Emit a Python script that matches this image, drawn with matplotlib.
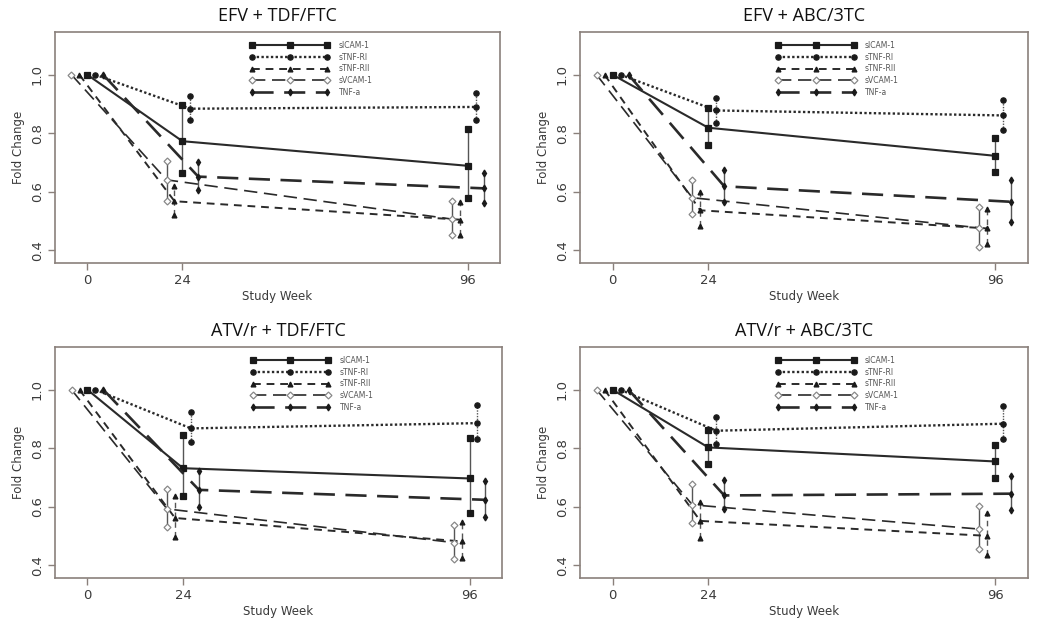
import matplotlib
matplotlib.use('Agg')
import matplotlib.pyplot as plt

# ---------------- data ----------------
weeks = [0, 24, 96]
biomarkers = ['sICAM-1', 'sTNF-RI', 'sTNF-RII', 'sVCAM-1', 'TNF-a']
titles = ['EFV + TDF/FTC', 'EFV + ABC/3TC', 'ATV/r + TDF/FTC', 'ATV/r + ABC/3TC']
baseline = 1.0

# fold change at weeks 24 and 96 (order: sICAM-1, sTNF-RI, sTNF-RII, sVCAM-1, TNF-a)
efv_tdf_mean = [[0.773, 0.689], [0.884, 0.890], [0.568, 0.505], [0.641, 0.507], [0.652, 0.612]]
efv_tdf_lo   = [[0.663, 0.579], [0.845, 0.845], [0.522, 0.452], [0.570, 0.454], [0.607, 0.563]]
efv_tdf_hi   = [[0.898, 0.816], [0.927, 0.939], [0.620, 0.567], [0.705, 0.568], [0.701, 0.664]]

efv_abc_mean = [[0.819, 0.723], [0.878, 0.861], [0.537, 0.475], [0.580, 0.477], [0.619, 0.566]]
efv_abc_lo   = [[0.759, 0.667], [0.836, 0.810], [0.484, 0.422], [0.526, 0.412], [0.566, 0.498]]
efv_abc_hi   = [[0.886, 0.784], [0.920, 0.915], [0.598, 0.543], [0.640, 0.547], [0.674, 0.640]]

atv_tdf_mean = [[0.732, 0.697], [0.868, 0.886], [0.562, 0.482], [0.593, 0.478], [0.658, 0.624]]
atv_tdf_lo   = [[0.638, 0.579], [0.821, 0.831], [0.497, 0.427], [0.531, 0.421], [0.601, 0.567]]
atv_tdf_hi   = [[0.846, 0.835], [0.923, 0.949], [0.638, 0.548], [0.662, 0.539], [0.723, 0.690]]

atv_abc_mean = [[0.803, 0.755], [0.860, 0.884], [0.552, 0.501], [0.607, 0.524], [0.639, 0.645]]
atv_abc_lo   = [[0.747, 0.700], [0.815, 0.831], [0.493, 0.436], [0.544, 0.456], [0.592, 0.590]]
atv_abc_hi   = [[0.863, 0.812], [0.907, 0.945], [0.618, 0.578], [0.678, 0.604], [0.692, 0.704]]

panel_mean = [efv_tdf_mean, efv_abc_mean, atv_tdf_mean, atv_abc_mean]
panel_lo = [efv_tdf_lo, efv_abc_lo, atv_tdf_lo, atv_abc_lo]
panel_hi = [efv_tdf_hi, efv_abc_hi, atv_tdf_hi, atv_abc_hi]

# ---------------- styles ----------------
dodge = [0, 2, -2, -4, 4]
line_styles = ['-', (0, (1, 1)), (0, (4, 3)), (0, (8, 4)), (0, (8, 4))]
line_widths = [1.5, 1.7, 1.4, 1.2, 1.9]
mk = ['s', 'o', '^', 'D', 'd']
mk_size = [3.8, 3.8, 3.5, 3.5, 3.5]
mk_face = ['#1a1a1a', '#1a1a1a', '#1a1a1a', 'white', '#1a1a1a']
mk_edge = ['#1a1a1a', '#1a1a1a', '#1a1a1a', '#888888', '#1a1a1a']
line_col = '#2a2a2a'
spine_col = '#8a807b'
text_col = '#3a3a3a'

W, H = 1050, 631
fig = plt.figure(figsize=(W / 100, H / 100), dpi=100)
fig.patch.set_facecolor('white')

# axes boxes in pixels: left, top, right, bottom
boxes = [(55, 32, 500, 263), (580, 32, 1028, 263), (55, 347, 502, 578), (580, 347, 1028, 578)]

for p in range(4):
    l, t, r, b = boxes[p]
    ax = fig.add_axes([l / W, 1 - b / H, (r - l) / W, (b - t) / H])
    handles = []
    for i in range(5):
        xs = [w + dodge[i] for w in weeks]
        ys = [baseline] + panel_mean[p][i]
        h, = ax.plot(xs, ys, linestyle=line_styles[i], lw=line_widths[i], color=line_col,
                     marker=mk[i], ms=mk_size[i], mfc=mk_face[i], mec=mk_edge[i], mew=0.9,
                     label=biomarkers[i], zorder=3)
        handles.append(h)
        for k in range(2):
            x = xs[k + 1]
            lo = panel_lo[p][i][k]
            hi = panel_hi[p][i][k]
            ax.plot([x, x], [lo, hi], linestyle=line_styles[i] if i in (1, 2) else '-',
                    lw=1.0, color='#555555', zorder=2)
            ax.plot([x, x], [lo, hi], linestyle='none', marker=mk[i], ms=mk_size[i],
                    mfc=mk_face[i], mec=mk_edge[i], mew=0.9, zorder=4)
    ax.set_xlim(-8.16, 104.16)
    ax.set_ylim(0.357, 1.146)
    ax.set_xticks(weeks)
    ax.set_xticklabels([str(w) for w in weeks])
    ax.set_yticks([0.4, 0.6, 0.8, 1.0])
    ax.set_yticklabels(['0.4', '0.6', '0.8', '1.0'], rotation=90, va='center')
    ax.tick_params(axis='both', direction='out', length=5, width=1.0, color=spine_col,
                   labelsize=9.5, labelcolor=text_col, pad=3)
    for s in ax.spines.values():
        s.set_color(spine_col)
        s.set_linewidth(1.2)
    ax.set_title(titles[p], fontsize=13, color='#111111', pad=8, family='Open Sans',
                 weight='medium')
    ax.set_xlabel('Study Week', fontsize=8.5, color=text_col, labelpad=2)
    ax.set_ylabel('Fold Change', fontsize=8.5, color=text_col, labelpad=4)
    leg = ax.legend(handles=handles, loc='upper left', bbox_to_anchor=(0.43, 0.975),
                    frameon=False, fontsize=5.5, numpoints=3, handlelength=10.5,
                    handletextpad=1.2, labelspacing=0.35, borderaxespad=0)
    for txt in leg.get_texts():
        txt.set_color('#555555')

fig.savefig('out.png', dpi=100, facecolor='white')
